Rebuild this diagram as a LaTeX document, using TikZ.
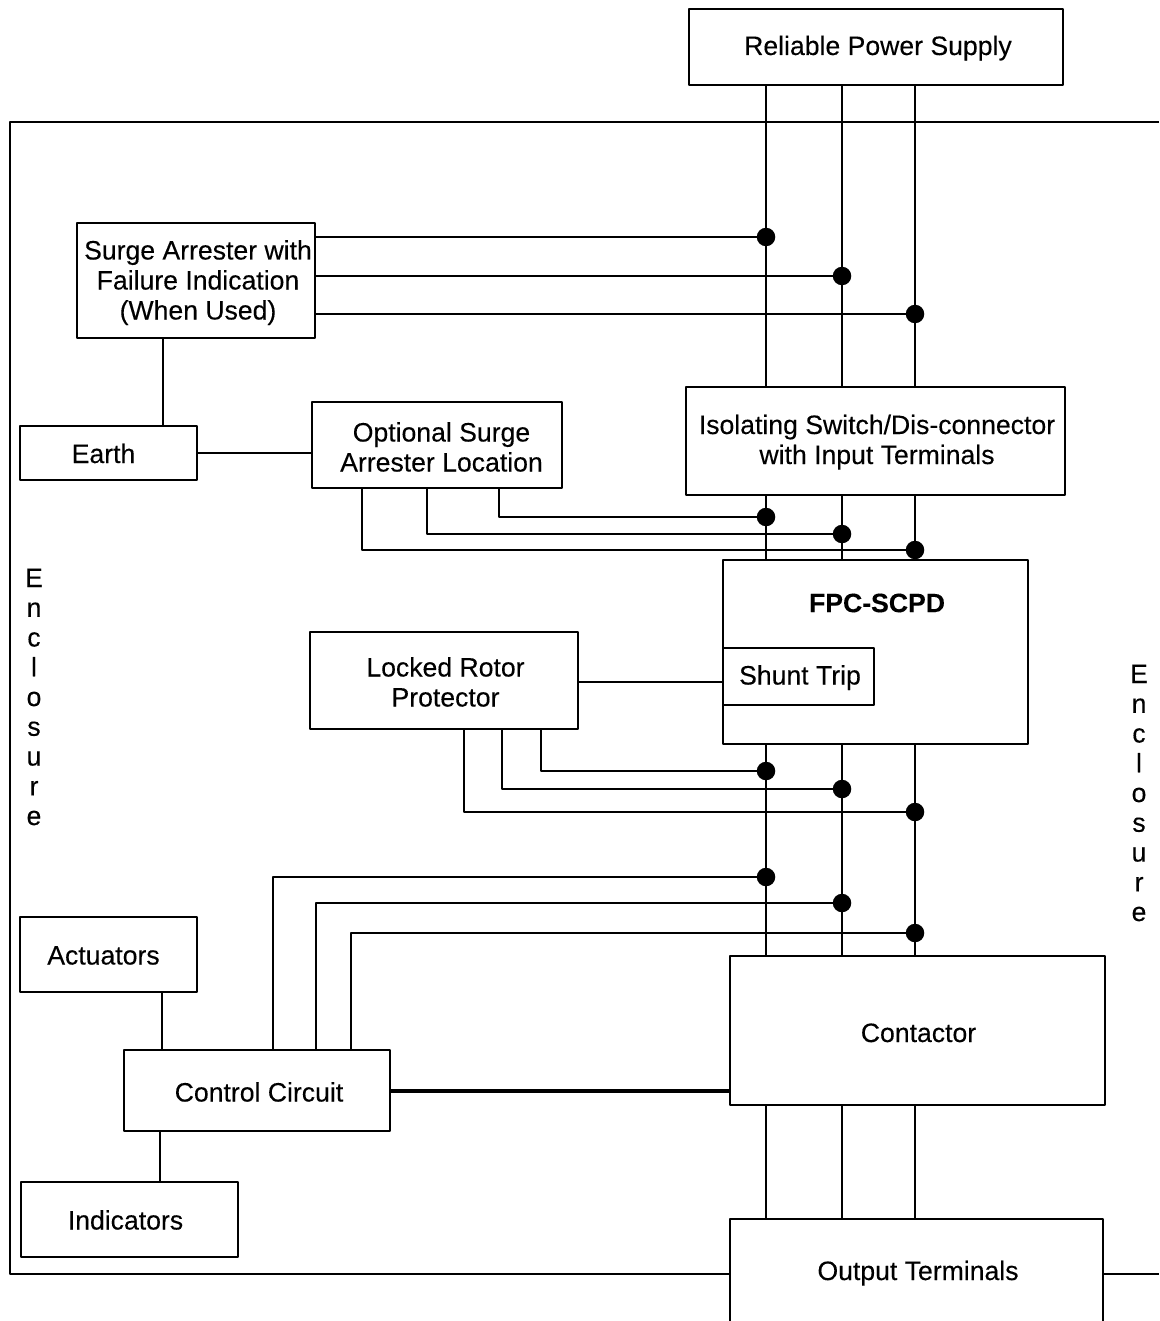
\documentclass[tikz,border=0pt]{standalone}
\usepackage{fontspec}
\setmainfont{Liberation Sans}[FakeBold=0.2]
\usetikzlibrary{calc}
\tikzset{
  px/.style={x=1bp,y=-1bp},
  wire/.style={line width=2.5bp,black,line join=round},
  thick wire/.style={line width=4.6bp,black},
  dot/.style={circle,fill=black,draw=none,inner sep=0pt,minimum size=18.5bp},
  lbl/.style={align=center,font=\fontsize{26.6bp}{30bp}\selectfont,inner sep=0pt},
  box/.style={draw=black,line width=2.5bp,line join=round,fill=white,inner sep=0pt,align=center,font=\fontsize{26.6bp}{30bp}\selectfont},
}
\newcommand{\bx}[6][]{\node[box,#1,minimum width=#5bp-#3bp,minimum height=#6bp-#4bp] (#2) at ({(#3+#5)/2},{(#4+#6)/2})}
% first-line strut: the optional argument moves the text down by half its value
\newcommand{\T}[1][0]{\rule{0pt}{\dimexpr 22bp+#1bp\relax}}
\newcommand{\B}{\rule[-6bp]{0pt}{6bp}}
\newcommand{\hs}[1]{\hspace*{#1bp}}
\begin{document}
\begin{tikzpicture}[px]
\useasboundingbox (0,0) rectangle (1159,1321);
\fill[white] (0,0) rectangle (1159,1321);
% enclosure
\coordinate (encTR) at (1159,122);
\coordinate (encTL) at (10,122);
\coordinate (encBL) at (10,1274);
\coordinate (encBR) at (1159,1274);
% dots
\node[dot] (a1) at (766,237) {};
\node[dot] (a2) at (842,276) {};
\node[dot] (a3) at (915,314) {};
\node[dot] (b1) at (766,517) {};
\node[dot] (b2) at (842,534) {};
\node[dot] (b3) at (915,550) {};
\node[dot] (c1) at (766,771) {};
\node[dot] (c2) at (842,789) {};
\node[dot] (c3) at (915,812) {};
\node[dot] (e1) at (766,877) {};
\node[dot] (e2) at (842,903) {};
\node[dot] (e3) at (915,933) {};
% boxes
\bx{psu}{689}{9}{1063}{85} {\T\hs{4}Reliable Power Supply\B};
\bx{arr}{77}{223}{315}{338} {\T[2]\hs{4}Surge Arrester with\\\hs{4}Failure Indication\\\hs{4}(When Used)\B};
\bx{earth}{20}{426}{197}{480} {\T[4]\hs{-10}Earth\B};
\bx{opt}{312}{402}{562}{488} {\T[7]\hs{9}Optional Surge\\\hs{9}Arrester Location\B};
\bx{iso}{686}{387}{1065}{495} {\T\hs{3}Isolating Switch/Dis-connector\\\hs{3}with Input Terminals\B};
\bx{fpc}{723}{560}{1028}{744} {};
\node[lbl,font=\fontsize{26.6bp}{30bp}\selectfont\bfseries] (fpclabel) at (877,603) {FPC-SCPD};
\bx{shunt}{723}{648}{874}{705} {\T\hs{3}Shunt Trip\B};
\bx{lrp}{310}{632}{578}{729} {\T[6]\hs{3}Locked Rotor\\\hs{3}Protector\B};
\bx{act}{20}{917}{197}{992} {\T[4]\hs{-10}Actuators\B};
\bx{ctrl}{124}{1050}{390}{1131} {\T[6]\hs{4}Control Circuit\B};
\bx{con}{730}{956}{1105}{1105} {\T[7]\hs{2}Contactor\B};
\bx{ind}{21}{1182}{238}{1257} {\T[4]\hs{-8}Indicators\B};
\node[lbl,minimum width=373bp,minimum height=102bp] (out) at (916.5,1270) {\T[4]\hs{3}Output Terminals\B};
\coordinate (encG1) at (out.west |- encBL);
\coordinate (encG2) at (out.east |- encBL);
\draw[wire] (encTR) -- (encTL) -- (encBL) -- (encG1);
\draw[wire] (encG2) -- (encBR);
\draw[wire] (out.south west) -- (out.north west) -- (out.north east) -- (out.south east);
% vertical buses
\draw[wire] (psu.south -| a1) -- (iso.north -| a1);
\draw[wire] (psu.south -| a2) -- (iso.north -| a2);
\draw[wire] (psu.south -| a3) -- (iso.north -| a3);
\draw[wire] (iso.south -| a1) -- (fpc.north -| a1);
\draw[wire] (iso.south -| a2) -- (fpc.north -| a2);
\draw[wire] (iso.south -| a3) -- (fpc.north -| a3);
\draw[wire] (fpc.south -| a1) -- (con.north -| a1);
\draw[wire] (fpc.south -| a2) -- (con.north -| a2);
\draw[wire] (fpc.south -| a3) -- (con.north -| a3);
\draw[wire] (con.south -| a1) -- (out.north -| a1);
\draw[wire] (con.south -| a2) -- (out.north -| a2);
\draw[wire] (con.south -| a3) -- (out.north -| a3);
% surge arrester
\draw[wire] (a1 -| arr.east) -- (a1);
\draw[wire] (a2 -| arr.east) -- (a2);
\draw[wire] (a3 -| arr.east) -- (a3);
\coordinate (arrE) at (163,426);
\draw[wire] (arr.south -| arrE) -- (earth.north -| arrE);
\coordinate (earthW) at (250,453);
\draw[wire] (earth.east |- earthW) -- (opt.west |- earthW);
% optional
\coordinate (o1) at (499,488);
\coordinate (o2) at (427,488);
\coordinate (o3) at (362,488);
\draw[wire] (opt.south -| o1) |- (b1);
\draw[wire] (opt.south -| o2) |- (b2);
\draw[wire] (opt.south -| o3) |- (b3);
% LRP
\coordinate (l1) at (541,729);
\coordinate (l2) at (502,729);
\coordinate (l3) at (464,729);
\draw[wire] (lrp.south -| l1) |- (c1);
\draw[wire] (lrp.south -| l2) |- (c2);
\draw[wire] (lrp.south -| l3) |- (c3);
\coordinate (l4) at (650,682);
\draw[wire] (lrp.east |- l4) -- (shunt.west |- l4);
% control
\coordinate (k1) at (273,1050);
\coordinate (k2) at (316,1050);
\coordinate (k3) at (351,1050);
\draw[wire] (ctrl.north -| k1) |- (e1);
\draw[wire] (ctrl.north -| k2) |- (e2);
\draw[wire] (ctrl.north -| k3) |- (e3);
\coordinate (k4) at (162,1050);
\draw[wire] (act.south -| k4) -- (ctrl.north -| k4);
\coordinate (k5) at (160,1131);
\draw[wire] (ctrl.south -| k5) -- (ind.north -| k5);
\coordinate (k6) at (560,1091);
\draw[thick wire] (ctrl.east |- k6) -- (con.west |- k6);
% enclosure labels
\node[lbl,text width=30bp,font=\fontsize{26.6bp}{29.75bp}\selectfont] (encl) at (34,697) {E\\n\\c\\l\\o\\s\\u\\r\\e};
\node[lbl,text width=30bp,font=\fontsize{26.6bp}{29.75bp}\selectfont] (encr) at (1139,793) {E\\n\\c\\l\\o\\s\\u\\r\\e};
\end{tikzpicture}
\end{document}
